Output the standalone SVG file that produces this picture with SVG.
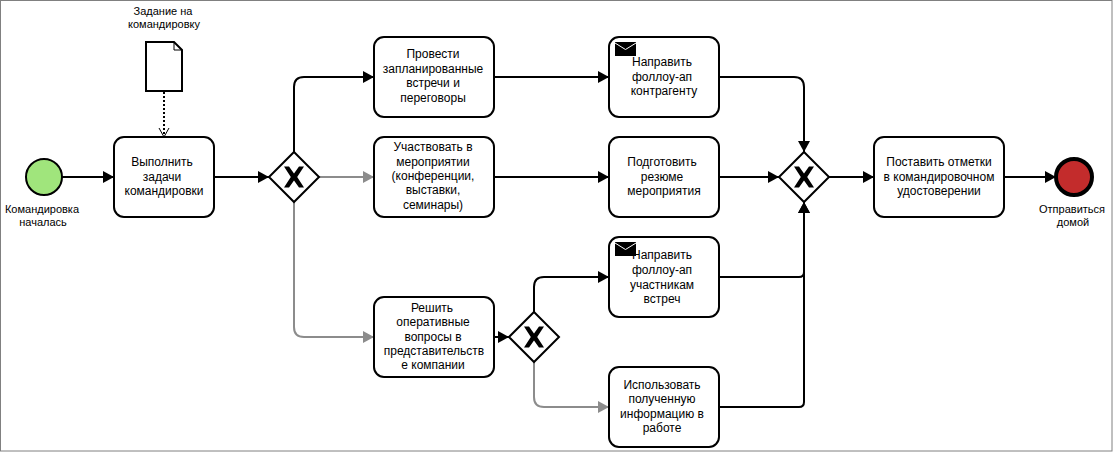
<svg xmlns="http://www.w3.org/2000/svg" width="1114" height="452" viewBox="0 0 1114 452">
<style>
text{font-family:"Liberation Sans",Arial,sans-serif;font-size:12px;fill:#000;text-anchor:middle}
text.s{font-size:11px}
.t{fill:#fff;stroke:#000;stroke-width:2}
.g{fill:#fff;stroke:#000;stroke-width:2}
.c{fill:none;stroke:#000;stroke-width:2}
.gr{stroke:#8c8c8c}
</style>
<defs>
<marker id="a" markerUnits="userSpaceOnUse" markerWidth="12" markerHeight="12" refX="11" refY="6" orient="auto"><path d="M0 0L11 6L0 12Z" fill="#000"/></marker>
<marker id="ag" markerUnits="userSpaceOnUse" markerWidth="12" markerHeight="12" refX="11" refY="6" orient="auto"><path d="M0 0L11 6L0 12Z" fill="#8c8c8c"/></marker>
<marker id="o" markerUnits="userSpaceOnUse" markerWidth="12" markerHeight="12" refX="10" refY="6" orient="auto"><path d="M1 1L10 6L1 11" fill="none" stroke="#000" stroke-width="1"/></marker>
<path id="X" d="M-10-10.5H-5L0-3.5L5-10.5H10L3.2 0L10 10.5H5L0 3.5L-5 10.5H-10L-3.2 0Z"/>
<g id="env"><rect x="0" y="0" width="21" height="14" fill="#000"/><path d="M0 1L10.5 7.5L21 1" fill="none" stroke="#fff" stroke-width="1"/></g>
</defs>
<rect x="0.5" y="0.5" width="1111.5" height="450.5" fill="#fff" stroke="#808080"/>
<g id="connectors">
<path class="c" marker-end="url(#a)" d="M62 177H114"/>
<path class="c" marker-end="url(#a)" d="M214 177H269"/>
<path class="c" marker-end="url(#a)" d="M294 152V87Q294 77 304 77H374"/>
<path class="c gr" marker-end="url(#ag)" d="M319 177H374"/>
<path class="c gr" marker-end="url(#ag)" d="M294 202V327Q294 337 304 337H374"/>
<path class="c" marker-end="url(#a)" d="M494 77H609"/>
<path class="c" marker-end="url(#a)" d="M494 177H609"/>
<path class="c" marker-end="url(#a)" d="M494 337H509"/>
<path class="c" marker-end="url(#a)" d="M534 312V287Q534 277 544 277H609"/>
<path class="c gr" marker-end="url(#ag)" d="M534 362V397Q534 407 544 407H609"/>
<path class="c" marker-end="url(#a)" d="M719 77H794Q804 77 804 87V152"/>
<path class="c" marker-end="url(#a)" d="M719 177H779"/>
<path class="c" marker-end="url(#a)" d="M719 277H799Q804 277 804 272V202"/>
<path class="c" marker-end="url(#a)" d="M719 407H799Q804 407 804 402V202"/>
<path class="c" marker-end="url(#a)" d="M829 177H874"/>
<path class="c" marker-end="url(#a)" d="M1004 177H1056"/>
<path fill="none" stroke="#000" stroke-width="2" stroke-dasharray="2 2" marker-end="url(#o)" d="M164 92V137"/>
</g>
<g id="start"><circle cx="44" cy="177" r="18" fill="#a0e57c" stroke="#000" stroke-width="2"/><text class="s" x="42" y="213">Командировка</text><text class="s" x="43" y="226">началась</text></g>
<g id="doc"><path d="M146 42H174L182 50V91H146Z" fill="#fff" stroke="#000" stroke-width="2"/><path d="M174 42V50H182" fill="none" stroke="#000"/><text class="s" x="163" y="15">Задание на</text><text class="s" x="164" y="28">командировку</text></g>
<g id="task1"><rect class="t" x="114" y="137" width="100" height="80" rx="10"/><text x="162" y="166">Выполнить</text><text x="162" y="181">задачи</text><text x="164" y="195">командировки</text></g>
<g id="gw1"><path class="g" d="M294 152L319 177L294 202L269 177Z"/><use href="#X" x="294" y="177"/></g>
<g id="task2"><rect class="t" x="374" y="37" width="120" height="80" rx="10"/><text x="433" y="58">Провести</text><text x="433" y="73">запланированные</text><text x="433" y="87">встречи и</text><text x="433" y="102">переговоры</text></g>
<g id="task3"><rect class="t" x="374" y="137" width="120" height="80" rx="10"/><text x="433" y="151">Участвовать в</text><text x="433" y="166">мероприятии</text><text x="433" y="180">(конференции,</text><text x="433" y="194">выставки,</text><text x="433" y="209">семинары)</text></g>
<g id="task4"><rect class="t" x="374" y="297" width="120" height="80" rx="10"/><text x="432" y="312">Решить</text><text x="433" y="326">оперативные</text><text x="433" y="341">вопросы в</text><text x="434" y="355">представительств</text><text x="433" y="369">е компании</text></g>
<g id="gw3"><path class="g" d="M534 312L559 337L534 362L509 337Z"/><use href="#X" x="534" y="337"/></g>
<g id="task5"><rect class="t" x="609" y="37" width="110" height="80" rx="10"/><use href="#env" x="615" y="42"/><text x="662" y="66">Направить</text><text x="662" y="81">фоллоу-ап</text><text x="664" y="95">контрагенту</text></g>
<g id="task6"><rect class="t" x="609" y="137" width="110" height="80" rx="10"/><text x="662" y="166">Подготовить</text><text x="662" y="181">резюме</text><text x="664" y="195">мероприятия</text></g>
<g id="task7"><rect class="t" x="609" y="237" width="110" height="80" rx="10"/><use href="#env" x="615" y="242"/><text x="662" y="259">Направить</text><text x="662" y="274">фоллоу-ап</text><text x="662" y="289">участникам</text><text x="662" y="303">встреч</text></g>
<g id="task8"><rect class="t" x="609" y="367" width="110" height="80" rx="10"/><text x="662" y="389">Использовать</text><text x="662" y="403">полученную</text><text x="662" y="418">информацию в</text><text x="662" y="432">работе</text></g>
<g id="gw2"><path class="g" d="M804 152L829 177L804 202L779 177Z"/><use href="#X" x="804" y="177"/></g>
<g id="task9"><rect class="t" x="874" y="137" width="130" height="80" rx="10"/><text x="939" y="166">Поставить отметки</text><text x="939" y="181">в командировочном</text><text x="939" y="195">удостоверении</text></g>
<g id="end"><circle cx="1074" cy="177" r="18" fill="#c32c2c" stroke="#000" stroke-width="4"/><text class="s" x="1072" y="213">Отправиться</text><text class="s" x="1073" y="226">домой</text></g>
</svg>
